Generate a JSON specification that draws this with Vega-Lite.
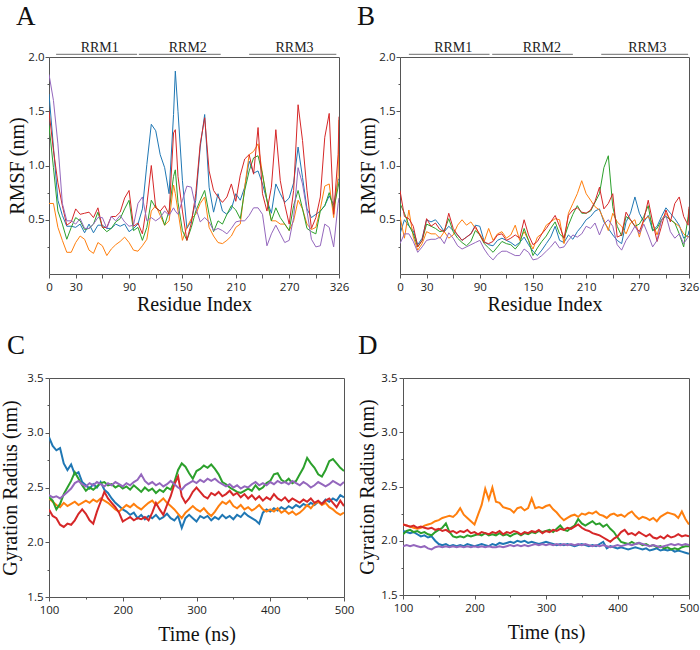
{
  "$schema": "https://vega.github.io/schema/vega-lite/v6.json",
  "background": "white",
  "padding": {"left": 0, "top": 3, "right": 0, "bottom": 0},
  "config": {
    "view": {"stroke": "#555", "strokeWidth": 1},
    "axis": {
      "labelFont": "Open Sans", "labelFontSize": 11.5, "labelColor": "#222",
      "titleFont": "Liberation Serif", "titleFontSize": 20, "titleFontWeight": "normal", "titleColor": "#111",
      "domain": false, "tickColor": "#555", "grid": false, "labelFlush": false, "labelOverlap": false,
      "labelPadding": 2
    },
    "title": {"font": "Liberation Serif", "fontSize": 27, "fontWeight": "normal", "anchor": "start", "frame": "group", "color": "#111"}
  },
  "datasets": {
    "rmsf_free": [
      {"res":0,"r1":1.66,"r2":0.65,"r3":1.37,"r4":1.50,"r5":1.84},
      {"res":5,"r1":1.17,"r2":0.65,"r3":0.98,"r4":1.14,"r5":1.60},
      {"res":10,"r1":0.68,"r2":0.43,"r3":0.58,"r4":0.84,"r5":1.20},
      {"res":15,"r1":0.54,"r2":0.31,"r3":0.46,"r4":0.63,"r5":0.65},
      {"res":20,"r1":0.44,"r2":0.20,"r3":0.32,"r4":0.45,"r5":0.49},
      {"res":25,"r1":0.44,"r2":0.20,"r3":0.43,"r4":0.48,"r5":0.49},
      {"res":30,"r1":0.43,"r2":0.29,"r3":0.52,"r4":0.60,"r5":0.46},
      {"res":35,"r1":0.46,"r2":0.35,"r3":0.49,"r4":0.55,"r5":0.51},
      {"res":40,"r1":0.38,"r2":0.32,"r3":0.41,"r4":0.56,"r5":0.42},
      {"res":45,"r1":0.46,"r2":0.22,"r3":0.42,"r4":0.57,"r5":0.42},
      {"res":50,"r1":0.38,"r2":0.19,"r3":0.46,"r4":0.52,"r5":0.46},
      {"res":55,"r1":0.45,"r2":0.29,"r3":0.57,"r4":0.61,"r5":0.52},
      {"res":60,"r1":0.45,"r2":0.26,"r3":0.43,"r4":0.43,"r5":0.52},
      {"res":65,"r1":0.42,"r2":0.17,"r3":0.39,"r4":0.43,"r5":0.42},
      {"res":70,"r1":0.42,"r2":0.23,"r3":0.42,"r4":0.53,"r5":0.53},
      {"res":75,"r1":0.46,"r2":0.27,"r3":0.48,"r4":0.53,"r5":0.49},
      {"res":80,"r1":0.44,"r2":0.30,"r3":0.51,"r4":0.57,"r5":0.54},
      {"res":85,"r1":0.46,"r2":0.34,"r3":0.60,"r4":0.70,"r5":0.48},
      {"res":90,"r1":0.39,"r2":0.29,"r3":0.68,"r4":0.77,"r5":0.44},
      {"res":95,"r1":0.42,"r2":0.22,"r3":0.40,"r4":0.44,"r5":0.45},
      {"res":100,"r1":0.46,"r2":0.21,"r3":0.43,"r4":0.47,"r5":0.65},
      {"res":105,"r1":0.60,"r2":0.26,"r3":0.31,"r4":0.37,"r5":0.71},
      {"res":110,"r1":1.01,"r2":0.32,"r3":0.43,"r4":0.64,"r5":0.49},
      {"res":115,"r1":1.38,"r2":0.58,"r3":0.68,"r4":1.00,"r5":0.52},
      {"res":120,"r1":1.32,"r2":0.63,"r3":0.61,"r4":0.61,"r5":0.49},
      {"res":125,"r1":1.10,"r2":0.54,"r3":0.58,"r4":0.58,"r5":0.52},
      {"res":130,"r1":0.98,"r2":0.45,"r3":0.45,"r4":0.63,"r5":0.58},
      {"res":135,"r1":0.74,"r2":0.49,"r3":0.58,"r4":0.55,"r5":0.54},
      {"res":140,"r1":1.47,"r2":0.82,"r3":0.90,"r4":1.30,"r5":0.61},
      {"res":142,"r1":1.87,"r2":0.74,"r3":0.96,"r4":1.33,"r5":0.58},
      {"res":145,"r1":1.50,"r2":0.58,"r3":0.66,"r4":0.90,"r5":0.55},
      {"res":150,"r1":0.86,"r2":0.31,"r3":0.40,"r4":0.58,"r5":0.68},
      {"res":155,"r1":0.42,"r2":0.43,"r3":0.31,"r4":0.31,"r5":0.81},
      {"res":160,"r1":0.49,"r2":0.51,"r3":0.43,"r4":0.47,"r5":0.80},
      {"res":165,"r1":0.68,"r2":0.55,"r3":0.58,"r4":0.74,"r5":0.61},
      {"res":170,"r1":1.17,"r2":0.65,"r3":0.68,"r4":1.20,"r5":0.48},
      {"res":175,"r1":1.47,"r2":0.71,"r3":0.77,"r4":1.44,"r5":0.52},
      {"res":180,"r1":0.80,"r2":0.43,"r3":0.55,"r4":0.95,"r5":0.48},
      {"res":185,"r1":0.57,"r2":0.35,"r3":0.39,"r4":0.77,"r5":0.40},
      {"res":190,"r1":0.74,"r2":0.29,"r3":0.49,"r4":0.71,"r5":0.42},
      {"res":195,"r1":0.58,"r2":0.28,"r3":0.46,"r4":0.66,"r5":0.40},
      {"res":200,"r1":0.55,"r2":0.31,"r3":0.55,"r4":0.71,"r5":0.37},
      {"res":205,"r1":0.60,"r2":0.35,"r3":0.63,"r4":0.83,"r5":0.42},
      {"res":210,"r1":0.74,"r2":0.43,"r3":0.59,"r4":0.67,"r5":0.48},
      {"res":215,"r1":0.68,"r2":0.46,"r3":0.51,"r4":0.91,"r5":0.49},
      {"res":220,"r1":0.80,"r2":0.80,"r3":0.77,"r4":1.06,"r5":0.49},
      {"res":225,"r1":1.04,"r2":1.10,"r3":0.95,"r4":1.10,"r5":0.54},
      {"res":230,"r1":0.93,"r2":1.13,"r3":1.07,"r4":0.92,"r5":0.61},
      {"res":235,"r1":0.95,"r2":1.20,"r3":1.09,"r4":1.35,"r5":0.61},
      {"res":240,"r1":0.83,"r2":0.92,"r3":0.92,"r4":0.74,"r5":0.55},
      {"res":245,"r1":0.68,"r2":0.68,"r3":0.68,"r4":0.58,"r5":0.26},
      {"res":250,"r1":0.56,"r2":0.49,"r3":0.49,"r4":0.80,"r5":0.37},
      {"res":255,"r1":0.83,"r2":0.49,"r3":0.61,"r4":1.33,"r5":0.45},
      {"res":260,"r1":0.74,"r2":0.46,"r3":0.52,"r4":0.86,"r5":0.37},
      {"res":265,"r1":0.66,"r2":0.46,"r3":0.46,"r4":0.64,"r5":0.29},
      {"res":270,"r1":0.70,"r2":0.40,"r3":0.40,"r4":0.46,"r5":0.31},
      {"res":275,"r1":0.84,"r2":0.49,"r3":0.63,"r4":0.77,"r5":0.52},
      {"res":280,"r1":1.17,"r2":0.68,"r3":0.77,"r4":1.56,"r5":0.98},
      {"res":285,"r1":0.89,"r2":0.60,"r3":0.60,"r4":1.23,"r5":0.83},
      {"res":290,"r1":0.60,"r2":0.46,"r3":0.42,"r4":0.77,"r5":0.58},
      {"res":295,"r1":0.52,"r2":0.41,"r3":0.39,"r4":0.42,"r5":0.32},
      {"res":300,"r1":0.55,"r2":0.43,"r3":0.37,"r4":0.52,"r5":0.25},
      {"res":305,"r1":0.58,"r2":0.60,"r3":0.58,"r4":0.71,"r5":0.26},
      {"res":310,"r1":0.63,"r2":0.81,"r3":0.63,"r4":1.26,"r5":0.46},
      {"res":315,"r1":0.72,"r2":0.83,"r3":0.75,"r4":1.48,"r5":0.43},
      {"res":320,"r1":0.64,"r2":0.52,"r3":0.60,"r4":0.55,"r5":0.25},
      {"res":325,"r1":0.86,"r2":0.90,"r3":0.80,"r4":1.10,"r5":0.65},
      {"res":326,"r1":0.88,"r2":1.42,"r3":0.85,"r4":1.45,"r5":0.70}
    ],
    "rmsf_bound": [
      {"res":0,"r1":0.37,"r2":0.53,"r3":0.65,"r4":0.77,"r5":0.28},
      {"res":5,"r1":0.50,"r2":0.33,"r3":0.56,"r4":0.53,"r5":0.37},
      {"res":10,"r1":0.44,"r2":0.59,"r3":0.45,"r4":0.51,"r5":0.37},
      {"res":15,"r1":0.40,"r2":0.34,"r3":0.37,"r4":0.44,"r5":0.30},
      {"res":20,"r1":0.27,"r2":0.22,"r3":0.25,"r4":0.25,"r5":0.20},
      {"res":25,"r1":0.33,"r2":0.28,"r3":0.31,"r4":0.31,"r5":0.25},
      {"res":30,"r1":0.50,"r2":0.39,"r3":0.46,"r4":0.51,"r5":0.31},
      {"res":35,"r1":0.48,"r2":0.37,"r3":0.44,"r4":0.44,"r5":0.32},
      {"res":40,"r1":0.50,"r2":0.37,"r3":0.42,"r4":0.47,"r5":0.32},
      {"res":45,"r1":0.45,"r2":0.33,"r3":0.39,"r4":0.41,"r5":0.34},
      {"res":50,"r1":0.39,"r2":0.39,"r3":0.40,"r4":0.39,"r5":0.28},
      {"res":55,"r1":0.44,"r2":0.33,"r3":0.51,"r4":0.56,"r5":0.38},
      {"res":60,"r1":0.40,"r2":0.36,"r3":0.39,"r4":0.42,"r5":0.33},
      {"res":65,"r1":0.36,"r2":0.45,"r3":0.33,"r4":0.36,"r5":0.26},
      {"res":70,"r1":0.31,"r2":0.50,"r3":0.29,"r4":0.31,"r5":0.23},
      {"res":75,"r1":0.34,"r2":0.45,"r3":0.26,"r4":0.34,"r5":0.25},
      {"res":80,"r1":0.37,"r2":0.48,"r3":0.30,"r4":0.37,"r5":0.27},
      {"res":85,"r1":0.45,"r2":0.42,"r3":0.40,"r4":0.44,"r5":0.29},
      {"res":90,"r1":0.44,"r2":0.37,"r3":0.36,"r4":0.36,"r5":0.31},
      {"res":95,"r1":0.30,"r2":0.30,"r3":0.28,"r4":0.29,"r5":0.23},
      {"res":100,"r1":0.27,"r2":0.42,"r3":0.24,"r4":0.28,"r5":0.17},
      {"res":105,"r1":0.26,"r2":0.31,"r3":0.20,"r4":0.30,"r5":0.13},
      {"res":110,"r1":0.31,"r2":0.37,"r3":0.25,"r4":0.36,"r5":0.18},
      {"res":115,"r1":0.33,"r2":0.39,"r3":0.30,"r4":0.37,"r5":0.21},
      {"res":120,"r1":0.31,"r2":0.33,"r3":0.28,"r4":0.31,"r5":0.21},
      {"res":125,"r1":0.29,"r2":0.36,"r3":0.27,"r4":0.33,"r5":0.19},
      {"res":130,"r1":0.26,"r2":0.45,"r3":0.23,"r4":0.36,"r5":0.17},
      {"res":135,"r1":0.29,"r2":0.31,"r3":0.28,"r4":0.33,"r5":0.17},
      {"res":140,"r1":0.34,"r2":0.39,"r3":0.42,"r4":0.50,"r5":0.23},
      {"res":145,"r1":0.27,"r2":0.31,"r3":0.31,"r4":0.36,"r5":0.20},
      {"res":150,"r1":0.21,"r2":0.23,"r3":0.17,"r4":0.27,"r5":0.13},
      {"res":155,"r1":0.17,"r2":0.34,"r3":0.24,"r4":0.30,"r5":0.14},
      {"res":160,"r1":0.22,"r2":0.37,"r3":0.30,"r4":0.37,"r5":0.17},
      {"res":165,"r1":0.28,"r2":0.45,"r3":0.35,"r4":0.42,"r5":0.21},
      {"res":170,"r1":0.34,"r2":0.48,"r3":0.42,"r4":0.48,"r5":0.25},
      {"res":175,"r1":0.44,"r2":0.51,"r3":0.48,"r4":0.54,"r5":0.30},
      {"res":180,"r1":0.31,"r2":0.50,"r3":0.37,"r4":0.44,"r5":0.24},
      {"res":185,"r1":0.29,"r2":0.28,"r3":0.33,"r4":0.33,"r5":0.25},
      {"res":190,"r1":0.36,"r2":0.56,"r3":0.45,"r4":0.54,"r5":0.31},
      {"res":195,"r1":0.32,"r2":0.65,"r3":0.55,"r4":0.59,"r5":0.36},
      {"res":200,"r1":0.39,"r2":0.74,"r3":0.63,"r4":0.61,"r5":0.34},
      {"res":205,"r1":0.44,"r2":0.86,"r3":0.56,"r4":0.57,"r5":0.37},
      {"res":210,"r1":0.50,"r2":0.74,"r3":0.56,"r4":0.56,"r5":0.44},
      {"res":215,"r1":0.53,"r2":0.68,"r3":0.58,"r4":0.59,"r5":0.42},
      {"res":220,"r1":0.58,"r2":0.62,"r3":0.66,"r4":0.67,"r5":0.47},
      {"res":225,"r1":0.60,"r2":0.59,"r3":0.74,"r4":0.80,"r5":0.36},
      {"res":230,"r1":0.48,"r2":0.50,"r3":0.98,"r4":0.60,"r5":0.46},
      {"res":235,"r1":0.42,"r2":0.40,"r3":1.09,"r4":0.65,"r5":0.50},
      {"res":240,"r1":0.36,"r2":0.56,"r3":0.62,"r4":0.74,"r5":0.44},
      {"res":245,"r1":0.31,"r2":0.48,"r3":0.44,"r4":0.34,"r5":0.27},
      {"res":250,"r1":0.28,"r2":0.44,"r3":0.35,"r4":0.36,"r5":0.22},
      {"res":255,"r1":0.48,"r2":0.37,"r3":0.53,"r4":0.57,"r5":0.31},
      {"res":260,"r1":0.56,"r2":0.47,"r3":0.50,"r4":0.50,"r5":0.37},
      {"res":265,"r1":0.71,"r2":0.50,"r3":0.44,"r4":0.44,"r5":0.44},
      {"res":270,"r1":0.56,"r2":0.34,"r3":0.46,"r4":0.39,"r5":0.37},
      {"res":275,"r1":0.48,"r2":0.50,"r3":0.53,"r4":0.50,"r5":0.46},
      {"res":280,"r1":0.54,"r2":0.53,"r3":0.63,"r4":0.68,"r5":0.36},
      {"res":285,"r1":0.40,"r2":0.47,"r3":0.40,"r4":0.48,"r5":0.25},
      {"res":290,"r1":0.44,"r2":0.36,"r3":0.42,"r4":0.30,"r5":0.31},
      {"res":295,"r1":0.53,"r2":0.50,"r3":0.50,"r4":0.44,"r5":0.50},
      {"res":300,"r1":0.61,"r2":0.56,"r3":0.53,"r4":0.59,"r5":0.54},
      {"res":305,"r1":0.56,"r2":0.50,"r3":0.50,"r4":0.48,"r5":0.39},
      {"res":310,"r1":0.51,"r2":0.47,"r3":0.47,"r4":0.65,"r5":0.33},
      {"res":315,"r1":0.45,"r2":0.44,"r3":0.37,"r4":0.71,"r5":0.37},
      {"res":320,"r1":0.33,"r2":0.37,"r3":0.25,"r4":0.53,"r5":0.28},
      {"res":325,"r1":0.36,"r2":0.34,"r3":0.53,"r4":0.45,"r5":0.34},
      {"res":326,"r1":0.40,"r2":0.35,"r3":0.60,"r4":0.62,"r5":0.35}
    ],
    "rg_free": [
      {"t":100,"r1":2.96,"r2":2.40,"r3":2.41,"r4":2.30,"r5":2.43},
      {"t":105,"r1":2.88,"r2":2.37,"r3":2.38,"r4":2.24,"r5":2.41},
      {"t":110,"r1":2.84,"r2":2.34,"r3":2.30,"r4":2.22,"r5":2.42},
      {"t":115,"r1":2.86,"r2":2.32,"r3":2.35,"r4":2.16,"r5":2.40},
      {"t":120,"r1":2.72,"r2":2.36,"r3":2.44,"r4":2.14,"r5":2.43},
      {"t":125,"r1":2.66,"r2":2.33,"r3":2.50,"r4":2.17,"r5":2.46},
      {"t":130,"r1":2.71,"r2":2.35,"r3":2.56,"r4":2.16,"r5":2.49},
      {"t":135,"r1":2.62,"r2":2.37,"r3":2.64,"r4":2.20,"r5":2.54},
      {"t":140,"r1":2.64,"r2":2.34,"r3":2.58,"r4":2.26,"r5":2.56},
      {"t":145,"r1":2.55,"r2":2.36,"r3":2.52,"r4":2.30,"r5":2.53},
      {"t":150,"r1":2.52,"r2":2.38,"r3":2.47,"r4":2.26,"r5":2.51},
      {"t":155,"r1":2.49,"r2":2.36,"r3":2.50,"r4":2.20,"r5":2.54},
      {"t":160,"r1":2.53,"r2":2.39,"r3":2.48,"r4":2.17,"r5":2.52},
      {"t":165,"r1":2.50,"r2":2.37,"r3":2.51,"r4":2.28,"r5":2.55},
      {"t":170,"r1":2.55,"r2":2.40,"r3":2.54,"r4":2.37,"r5":2.53},
      {"t":175,"r1":2.48,"r2":2.38,"r3":2.55,"r4":2.46,"r5":2.51},
      {"t":180,"r1":2.45,"r2":2.36,"r3":2.52,"r4":2.40,"r5":2.54},
      {"t":185,"r1":2.40,"r2":2.33,"r3":2.53,"r4":2.36,"r5":2.52},
      {"t":190,"r1":2.36,"r2":2.30,"r3":2.50,"r4":2.32,"r5":2.55},
      {"t":195,"r1":2.33,"r2":2.28,"r3":2.52,"r4":2.27,"r5":2.53},
      {"t":200,"r1":2.30,"r2":2.31,"r3":2.49,"r4":2.19,"r5":2.51},
      {"t":205,"r1":2.28,"r2":2.34,"r3":2.51,"r4":2.21,"r5":2.54},
      {"t":210,"r1":2.25,"r2":2.32,"r3":2.48,"r4":2.23,"r5":2.52},
      {"t":215,"r1":2.27,"r2":2.35,"r3":2.52,"r4":2.20,"r5":2.55},
      {"t":220,"r1":2.22,"r2":2.32,"r3":2.49,"r4":2.22,"r5":2.57},
      {"t":225,"r1":2.25,"r2":2.30,"r3":2.46,"r4":2.21,"r5":2.62},
      {"t":230,"r1":2.21,"r2":2.33,"r3":2.50,"r4":2.23,"r5":2.56},
      {"t":235,"r1":2.24,"r2":2.36,"r3":2.47,"r4":2.20,"r5":2.53},
      {"t":240,"r1":2.22,"r2":2.38,"r3":2.49,"r4":2.27,"r5":2.55},
      {"t":245,"r1":2.25,"r2":2.34,"r3":2.45,"r4":2.36,"r5":2.52},
      {"t":250,"r1":2.21,"r2":2.37,"r3":2.48,"r4":2.30,"r5":2.54},
      {"t":255,"r1":2.23,"r2":2.40,"r3":2.46,"r4":2.25,"r5":2.51},
      {"t":260,"r1":2.26,"r2":2.36,"r3":2.50,"r4":2.34,"r5":2.53},
      {"t":265,"r1":2.22,"r2":2.33,"r3":2.48,"r4":2.42,"r5":2.56},
      {"t":270,"r1":2.20,"r2":2.30,"r3":2.55,"r4":2.53,"r5":2.53},
      {"t":275,"r1":2.24,"r2":2.26,"r3":2.66,"r4":2.60,"r5":2.50},
      {"t":280,"r1":2.13,"r2":2.22,"r3":2.72,"r4":2.42,"r5":2.48},
      {"t":285,"r1":2.22,"r2":2.27,"r3":2.69,"r4":2.36,"r5":2.52},
      {"t":290,"r1":2.25,"r2":2.30,"r3":2.63,"r4":2.40,"r5":2.54},
      {"t":295,"r1":2.22,"r2":2.33,"r3":2.58,"r4":2.46,"r5":2.56},
      {"t":300,"r1":2.19,"r2":2.30,"r3":2.65,"r4":2.50,"r5":2.54},
      {"t":305,"r1":2.24,"r2":2.28,"r3":2.67,"r4":2.46,"r5":2.57},
      {"t":310,"r1":2.22,"r2":2.31,"r3":2.70,"r4":2.42,"r5":2.55},
      {"t":315,"r1":2.24,"r2":2.27,"r3":2.68,"r4":2.40,"r5":2.58},
      {"t":320,"r1":2.20,"r2":2.24,"r3":2.71,"r4":2.45,"r5":2.56},
      {"t":325,"r1":2.23,"r2":2.28,"r3":2.67,"r4":2.43,"r5":2.58},
      {"t":330,"r1":2.21,"r2":2.33,"r3":2.62,"r4":2.46,"r5":2.55},
      {"t":335,"r1":2.25,"r2":2.37,"r3":2.55,"r4":2.42,"r5":2.53},
      {"t":340,"r1":2.22,"r2":2.35,"r3":2.53,"r4":2.44,"r5":2.51},
      {"t":345,"r1":2.24,"r2":2.38,"r3":2.50,"r4":2.47,"r5":2.53},
      {"t":350,"r1":2.21,"r2":2.33,"r3":2.48,"r4":2.43,"r5":2.50},
      {"t":355,"r1":2.25,"r2":2.31,"r3":2.46,"r4":2.45,"r5":2.52},
      {"t":360,"r1":2.23,"r2":2.34,"r3":2.45,"r4":2.41,"r5":2.49},
      {"t":365,"r1":2.27,"r2":2.30,"r3":2.47,"r4":2.44,"r5":2.51},
      {"t":370,"r1":2.24,"r2":2.32,"r3":2.49,"r4":2.40,"r5":2.50},
      {"t":375,"r1":2.22,"r2":2.29,"r3":2.47,"r4":2.43,"r5":2.53},
      {"t":380,"r1":2.20,"r2":2.31,"r3":2.52,"r4":2.39,"r5":2.55},
      {"t":385,"r1":2.17,"r2":2.34,"r3":2.48,"r4":2.42,"r5":2.52},
      {"t":390,"r1":2.27,"r2":2.30,"r3":2.50,"r4":2.38,"r5":2.54},
      {"t":395,"r1":2.30,"r2":2.28,"r3":2.54,"r4":2.41,"r5":2.52},
      {"t":400,"r1":2.28,"r2":2.30,"r3":2.56,"r4":2.39,"r5":2.55},
      {"t":405,"r1":2.31,"r2":2.28,"r3":2.62,"r4":2.44,"r5":2.53},
      {"t":410,"r1":2.29,"r2":2.31,"r3":2.63,"r4":2.40,"r5":2.56},
      {"t":415,"r1":2.32,"r2":2.27,"r3":2.57,"r4":2.38,"r5":2.54},
      {"t":420,"r1":2.30,"r2":2.29,"r3":2.55,"r4":2.41,"r5":2.55},
      {"t":425,"r1":2.33,"r2":2.26,"r3":2.58,"r4":2.37,"r5":2.53},
      {"t":430,"r1":2.31,"r2":2.28,"r3":2.54,"r4":2.40,"r5":2.56},
      {"t":435,"r1":2.34,"r2":2.25,"r3":2.56,"r4":2.38,"r5":2.54},
      {"t":440,"r1":2.32,"r2":2.27,"r3":2.62,"r4":2.36,"r5":2.52},
      {"t":445,"r1":2.35,"r2":2.30,"r3":2.68,"r4":2.39,"r5":2.55},
      {"t":450,"r1":2.33,"r2":2.34,"r3":2.77,"r4":2.37,"r5":2.53},
      {"t":455,"r1":2.36,"r2":2.31,"r3":2.72,"r4":2.40,"r5":2.50},
      {"t":460,"r1":2.34,"r2":2.35,"r3":2.68,"r4":2.36,"r5":2.52},
      {"t":465,"r1":2.37,"r2":2.37,"r3":2.62,"r4":2.38,"r5":2.55},
      {"t":470,"r1":2.35,"r2":2.34,"r3":2.60,"r4":2.35,"r5":2.53},
      {"t":475,"r1":2.39,"r2":2.36,"r3":2.66,"r4":2.38,"r5":2.51},
      {"t":480,"r1":2.37,"r2":2.32,"r3":2.74,"r4":2.40,"r5":2.53},
      {"t":485,"r1":2.40,"r2":2.30,"r3":2.76,"r4":2.36,"r5":2.56},
      {"t":490,"r1":2.38,"r2":2.27,"r3":2.72,"r4":2.32,"r5":2.54},
      {"t":495,"r1":2.43,"r2":2.25,"r3":2.68,"r4":2.38,"r5":2.52},
      {"t":500,"r1":2.41,"r2":2.27,"r3":2.65,"r4":2.33,"r5":2.55}
    ],
    "rg_bound": [
      {"t":100,"r1":2.09,"r2":2.15,"r3":2.06,"r4":2.15,"r5":1.95},
      {"t":105,"r1":2.08,"r2":2.14,"r3":2.09,"r4":2.14,"r5":1.96},
      {"t":110,"r1":2.07,"r2":2.13,"r3":2.10,"r4":2.13,"r5":1.95},
      {"t":115,"r1":2.08,"r2":2.12,"r3":2.08,"r4":2.14,"r5":1.96},
      {"t":120,"r1":2.06,"r2":2.11,"r3":2.09,"r4":2.12,"r5":1.95},
      {"t":125,"r1":2.04,"r2":2.12,"r3":2.07,"r4":2.13,"r5":1.94},
      {"t":130,"r1":2.05,"r2":2.14,"r3":2.08,"r4":2.12,"r5":1.95},
      {"t":135,"r1":2.03,"r2":2.15,"r3":2.06,"r4":2.11,"r5":1.93},
      {"t":140,"r1":2.04,"r2":2.16,"r3":2.05,"r4":2.12,"r5":1.92},
      {"t":145,"r1":2.00,"r2":2.18,"r3":2.08,"r4":2.10,"r5":1.94},
      {"t":150,"r1":1.97,"r2":2.19,"r3":2.10,"r4":2.11,"r5":1.95},
      {"t":155,"r1":1.96,"r2":2.21,"r3":2.12,"r4":2.09,"r5":1.94},
      {"t":160,"r1":1.97,"r2":2.22,"r3":2.16,"r4":2.10,"r5":1.95},
      {"t":165,"r1":1.95,"r2":2.23,"r3":2.08,"r4":2.08,"r5":1.94},
      {"t":170,"r1":1.96,"r2":2.22,"r3":2.04,"r4":2.09,"r5":1.95},
      {"t":175,"r1":1.95,"r2":2.25,"r3":2.03,"r4":2.07,"r5":1.94},
      {"t":180,"r1":1.96,"r2":2.30,"r3":2.04,"r4":2.09,"r5":1.95},
      {"t":185,"r1":1.95,"r2":2.24,"r3":2.03,"r4":2.08,"r5":1.94},
      {"t":190,"r1":1.97,"r2":2.21,"r3":2.05,"r4":2.10,"r5":1.95},
      {"t":195,"r1":1.96,"r2":2.18,"r3":2.04,"r4":2.07,"r5":1.94},
      {"t":200,"r1":1.95,"r2":2.15,"r3":2.05,"r4":2.08,"r5":1.95},
      {"t":205,"r1":1.96,"r2":2.24,"r3":2.06,"r4":2.06,"r5":1.94},
      {"t":210,"r1":1.97,"r2":2.33,"r3":2.05,"r4":2.08,"r5":1.95},
      {"t":215,"r1":1.96,"r2":2.48,"r3":2.07,"r4":2.07,"r5":1.94},
      {"t":220,"r1":1.95,"r2":2.38,"r3":2.05,"r4":2.06,"r5":1.95},
      {"t":225,"r1":1.97,"r2":2.49,"r3":2.06,"r4":2.08,"r5":1.94},
      {"t":230,"r1":1.96,"r2":2.36,"r3":2.05,"r4":2.07,"r5":1.94},
      {"t":235,"r1":1.98,"r2":2.35,"r3":2.07,"r4":2.09,"r5":1.95},
      {"t":240,"r1":1.97,"r2":2.31,"r3":2.05,"r4":2.06,"r5":1.94},
      {"t":245,"r1":1.98,"r2":2.30,"r3":2.06,"r4":2.08,"r5":1.95},
      {"t":250,"r1":1.99,"r2":2.29,"r3":2.04,"r4":2.07,"r5":1.96},
      {"t":255,"r1":1.98,"r2":2.26,"r3":2.06,"r4":2.09,"r5":1.95},
      {"t":260,"r1":2.00,"r2":2.30,"r3":2.07,"r4":2.08,"r5":1.96},
      {"t":265,"r1":1.99,"r2":2.31,"r3":2.05,"r4":2.06,"r5":1.95},
      {"t":270,"r1":2.00,"r2":2.28,"r3":2.07,"r4":2.08,"r5":1.96},
      {"t":275,"r1":1.98,"r2":2.30,"r3":2.06,"r4":2.07,"r5":1.95},
      {"t":280,"r1":1.99,"r2":2.39,"r3":2.08,"r4":2.09,"r5":1.96},
      {"t":285,"r1":1.98,"r2":2.30,"r3":2.07,"r4":2.08,"r5":1.97},
      {"t":290,"r1":1.97,"r2":2.31,"r3":2.09,"r4":2.10,"r5":1.96},
      {"t":295,"r1":1.98,"r2":2.30,"r3":2.08,"r4":2.07,"r5":1.97},
      {"t":300,"r1":1.99,"r2":2.32,"r3":2.09,"r4":2.09,"r5":1.96},
      {"t":305,"r1":1.98,"r2":2.33,"r3":2.10,"r4":2.08,"r5":1.97},
      {"t":310,"r1":1.97,"r2":2.29,"r3":2.08,"r4":2.10,"r5":1.96},
      {"t":315,"r1":1.96,"r2":2.26,"r3":2.11,"r4":2.09,"r5":1.97},
      {"t":320,"r1":1.97,"r2":2.22,"r3":2.14,"r4":2.11,"r5":1.96},
      {"t":325,"r1":1.96,"r2":2.19,"r3":2.10,"r4":2.10,"r5":1.97},
      {"t":330,"r1":1.97,"r2":2.21,"r3":2.09,"r4":2.12,"r5":1.96},
      {"t":335,"r1":1.96,"r2":2.23,"r3":2.12,"r4":2.11,"r5":1.97},
      {"t":340,"r1":1.95,"r2":2.24,"r3":2.14,"r4":2.13,"r5":1.96},
      {"t":345,"r1":1.96,"r2":2.22,"r3":2.20,"r4":2.15,"r5":1.97},
      {"t":350,"r1":1.97,"r2":2.25,"r3":2.16,"r4":2.12,"r5":1.96},
      {"t":355,"r1":1.96,"r2":2.24,"r3":2.14,"r4":2.10,"r5":1.97},
      {"t":360,"r1":1.95,"r2":2.26,"r3":2.16,"r4":2.09,"r5":1.96},
      {"t":365,"r1":1.96,"r2":2.25,"r3":2.18,"r4":2.07,"r5":1.95},
      {"t":370,"r1":1.95,"r2":2.27,"r3":2.15,"r4":2.06,"r5":1.96},
      {"t":375,"r1":1.97,"r2":2.24,"r3":2.16,"r4":2.05,"r5":1.95},
      {"t":380,"r1":1.99,"r2":2.23,"r3":2.13,"r4":2.03,"r5":1.96},
      {"t":385,"r1":1.93,"r2":2.21,"r3":2.15,"r4":2.01,"r5":1.95},
      {"t":390,"r1":1.95,"r2":2.24,"r3":2.11,"r4":1.99,"r5":1.94},
      {"t":395,"r1":1.94,"r2":2.25,"r3":2.08,"r4":2.02,"r5":1.95},
      {"t":400,"r1":1.93,"r2":2.23,"r3":2.03,"r4":2.04,"r5":1.96},
      {"t":405,"r1":1.94,"r2":2.24,"r3":1.99,"r4":2.08,"r5":1.95},
      {"t":410,"r1":1.93,"r2":2.22,"r3":1.98,"r4":2.10,"r5":1.96},
      {"t":415,"r1":1.92,"r2":2.25,"r3":1.97,"r4":2.06,"r5":1.97},
      {"t":420,"r1":1.93,"r2":2.27,"r3":1.99,"r4":2.07,"r5":1.96},
      {"t":425,"r1":1.94,"r2":2.23,"r3":1.97,"r4":2.05,"r5":1.97},
      {"t":430,"r1":1.93,"r2":2.20,"r3":1.98,"r4":2.08,"r5":1.98},
      {"t":435,"r1":1.92,"r2":2.22,"r3":1.96,"r4":2.06,"r5":1.97},
      {"t":440,"r1":1.93,"r2":2.21,"r3":1.97,"r4":2.04,"r5":1.96},
      {"t":445,"r1":1.91,"r2":2.19,"r3":1.95,"r4":2.06,"r5":1.95},
      {"t":450,"r1":1.92,"r2":2.21,"r3":1.96,"r4":2.03,"r5":1.96},
      {"t":455,"r1":1.93,"r2":2.18,"r3":1.94,"r4":2.02,"r5":1.95},
      {"t":460,"r1":1.91,"r2":2.22,"r3":1.95,"r4":2.04,"r5":1.94},
      {"t":465,"r1":1.92,"r2":2.24,"r3":1.93,"r4":2.02,"r5":1.95},
      {"t":470,"r1":1.91,"r2":2.26,"r3":1.94,"r4":2.05,"r5":1.96},
      {"t":475,"r1":1.92,"r2":2.25,"r3":1.92,"r4":2.03,"r5":1.97},
      {"t":480,"r1":1.90,"r2":2.24,"r3":1.93,"r4":2.04,"r5":1.96},
      {"t":485,"r1":1.91,"r2":2.21,"r3":1.92,"r4":2.06,"r5":1.97},
      {"t":490,"r1":1.90,"r2":2.27,"r3":1.94,"r4":2.04,"r5":1.96},
      {"t":495,"r1":1.89,"r2":2.20,"r3":1.95,"r4":2.05,"r5":1.97},
      {"t":500,"r1":1.88,"r2":2.15,"r3":1.95,"r4":2.04,"r5":1.96}
    ],
    "domains_free": [
      {"domain":"RRM1","start":8,"end":99,"mid":57},
      {"domain":"RRM2","start":101,"end":193,"mid":156},
      {"domain":"RRM3","start":225,"end":323,"mid":276}
    ],
    "domains_bound": [
      {"domain":"RRM1","start":10,"end":101,"mid":60},
      {"domain":"RRM2","start":104,"end":195,"mid":160},
      {"domain":"RRM3","start":227,"end":325,"mid":279}
    ]
  },
  "spacing": 16,
  "vconcat": [
    {
      "spacing": 7,
      "hconcat": [
        {
          "spacing": 0,
          "bounds": "flush",
          "resolve": {"scale": {"x": "independent", "y": "independent"}},
          "vconcat": [
            {
              "title": {"text": "A", "dx": -33, "offset": 8},
              "width": 290, "height": 18,
              "view": {"stroke": null},
              "data": {"name": "domains_free"},
              "layer": [
                {
                  "mark": {"type": "rule", "color": "#8a8a8a", "strokeWidth": 1.3},
                  "encoding": {
                    "x": {"field": "start", "type": "quantitative", "axis": null, "scale": {"domain": [0, 326], "nice": false}},
                    "x2": {"field": "end"},
                    "y": {"datum": 0.15, "type": "quantitative", "axis": null, "scale": {"domain": [0, 1], "nice": false}}
                  }
                },
                {
                  "mark": {"type": "text", "font": "Liberation Serif", "fontSize": 14, "baseline": "alphabetic", "color": "#222"},
                  "encoding": {
                    "x": {"field": "mid", "type": "quantitative", "axis": null},
                    "y": {"datum": 0.28, "type": "quantitative", "axis": null},
                    "text": {"field": "domain"}
                  }
                }
              ]
            },
            {
              "width": 290, "height": 217,
              "data": {"name": "rmsf_free"},
              "transform": [{"fold": ["r1", "r2", "r3", "r4", "r5"], "as": ["run", "rmsf"]}],
              "mark": {"type": "line", "strokeWidth": 1, "clip": true},
              "encoding": {
                "x": {"field": "res", "type": "quantitative", "title": "Residue Index",
                      "scale": {"domain": [0, 326], "nice": false},
                      "axis": {"values": [0, 30, 60, 90, 120, 150, 180, 210, 240, 270, 300, 326],
                               "labelExpr": "indexof([0, 30, 90, 150, 210, 270, 326], datum.value) >= 0 ? datum.label : ''",
                               "tickSize": 4, "labelPadding": 3, "titlePadding": 2}},
                "y": {"field": "rmsf", "type": "quantitative", "title": "RMSF (nm)",
                      "scale": {"domain": [0, 2], "nice": false},
                      "axis": {"values": [0.25, 0.5, 0.75, 1, 1.25, 1.5, 1.75, 2], "format": ".1f",
                               "labelExpr": "datum.value % 0.5 === 0 ? datum.label : ''",
                               "tickSize": {"condition": {"test": "datum.value % 0.5 !== 0", "value": 2}, "value": 4},
                               "labelPadding": 1, "titlePadding": 0}},
                "color": {"field": "run", "type": "nominal", "legend": null,
                          "scale": {"domain": ["r1", "r2", "r3", "r4", "r5"],
                                    "range": ["#1f77b4", "#ff7f0e", "#2ca02c", "#d62728", "#9467bd"]}}
              }
            }
          ]
        },
        {
          "spacing": 0,
          "bounds": "flush",
          "resolve": {"scale": {"x": "independent", "y": "independent"}},
          "vconcat": [
            {
              "title": {"text": "B", "dx": -43, "offset": 8},
              "width": 289, "height": 18,
              "view": {"stroke": null},
              "data": {"name": "domains_bound"},
              "layer": [
                {
                  "mark": {"type": "rule", "color": "#8a8a8a", "strokeWidth": 1.3},
                  "encoding": {
                    "x": {"field": "start", "type": "quantitative", "axis": null, "scale": {"domain": [0, 326], "nice": false}},
                    "x2": {"field": "end"},
                    "y": {"datum": 0.15, "type": "quantitative", "axis": null, "scale": {"domain": [0, 1], "nice": false}}
                  }
                },
                {
                  "mark": {"type": "text", "font": "Liberation Serif", "fontSize": 14, "baseline": "alphabetic", "color": "#222"},
                  "encoding": {
                    "x": {"field": "mid", "type": "quantitative", "axis": null},
                    "y": {"datum": 0.28, "type": "quantitative", "axis": null},
                    "text": {"field": "domain"}
                  }
                }
              ]
            },
            {
              "width": 289, "height": 217,
              "data": {"name": "rmsf_bound"},
              "transform": [{"fold": ["r1", "r2", "r3", "r4", "r5"], "as": ["run", "rmsf"]}],
              "mark": {"type": "line", "strokeWidth": 1, "clip": true},
              "encoding": {
                "x": {"field": "res", "type": "quantitative", "title": "Residue Index",
                      "scale": {"domain": [0, 326], "nice": false},
                      "axis": {"values": [0, 30, 60, 90, 120, 150, 180, 210, 240, 270, 300, 326],
                               "labelExpr": "indexof([0, 30, 90, 150, 210, 270, 326], datum.value) >= 0 ? datum.label : ''",
                               "tickSize": 4, "labelPadding": 3, "titlePadding": 2}},
                "y": {"field": "rmsf", "type": "quantitative", "title": "RMSF (nm)",
                      "scale": {"domain": [0, 2], "nice": false},
                      "axis": {"values": [0.25, 0.5, 0.75, 1, 1.25, 1.5, 1.75, 2], "format": ".1f",
                               "labelExpr": "datum.value % 0.5 === 0 ? datum.label : ''",
                               "tickSize": {"condition": {"test": "datum.value % 0.5 !== 0", "value": 2}, "value": 4},
                               "labelPadding": 1, "titlePadding": 0}},
                "color": {"field": "run", "type": "nominal", "legend": null,
                          "scale": {"domain": ["r1", "r2", "r3", "r4", "r5"],
                                    "range": ["#1f77b4", "#ff7f0e", "#2ca02c", "#d62728", "#9467bd"]}}
              }
            }
          ]
        }
      ]
    },
    {
      "spacing": 2,
      "hconcat": [
        {
          "title": {"text": "C", "dx": -42, "offset": 12},
          "width": 295, "height": 219,
          "data": {"name": "rg_free"},
          "transform": [{"fold": ["r1", "r2", "r3", "r4", "r5"], "as": ["run", "rg"]}],
          "mark": {"type": "line", "strokeWidth": 2, "clip": true},
          "encoding": {
            "x": {"field": "t", "type": "quantitative", "title": "Time (ns)",
                  "scale": {"domain": [100, 500], "nice": false},
                  "axis": {"values": [100, 150, 200, 250, 300, 350, 400, 450, 500],
                           "labelExpr": "datum.value % 100 === 0 ? datum.label : ''",
                           "tickSize": {"condition": {"test": "datum.value % 100 !== 0", "value": 2}, "value": 4},
                           "labelPadding": 3, "titlePadding": 9}},
            "y": {"field": "rg", "type": "quantitative", "title": "Gyration Radius (nm)",
                  "scale": {"domain": [1.5, 3.5], "nice": false},
                  "axis": {"values": [1.5, 1.75, 2, 2.25, 2.5, 2.75, 3, 3.25, 3.5], "format": ".1f",
                           "labelExpr": "datum.value % 0.5 === 0 ? datum.label : ''",
                           "tickSize": {"condition": {"test": "datum.value % 0.5 !== 0", "value": 2}, "value": 4},
                           "titlePadding": 6}},
            "color": {"field": "run", "type": "nominal", "legend": null,
                      "scale": {"domain": ["r1", "r2", "r3", "r4", "r5"],
                                "range": ["#1f77b4", "#ff7f0e", "#2ca02c", "#d62728", "#9467bd"]}}
          }
        },
        {
          "title": {"text": "D", "dx": -45, "offset": 12},
          "width": 286, "height": 217,
          "data": {"name": "rg_bound"},
          "transform": [{"fold": ["r1", "r2", "r3", "r4", "r5"], "as": ["run", "rg"]}],
          "mark": {"type": "line", "strokeWidth": 2, "clip": true},
          "encoding": {
            "x": {"field": "t", "type": "quantitative", "title": "Time (ns)",
                  "scale": {"domain": [100, 500], "nice": false},
                  "axis": {"values": [100, 150, 200, 250, 300, 350, 400, 450, 500],
                           "labelExpr": "datum.value % 100 === 0 ? datum.label : ''",
                           "tickSize": {"condition": {"test": "datum.value % 100 !== 0", "value": 2}, "value": 4},
                           "labelPadding": 3, "titlePadding": 9}},
            "y": {"field": "rg", "type": "quantitative", "title": "Gyration Radius (nm)",
                  "scale": {"domain": [1.5, 3.5], "nice": false},
                  "axis": {"values": [1.5, 1.75, 2, 2.25, 2.5, 2.75, 3, 3.25, 3.5], "format": ".1f",
                           "labelExpr": "datum.value % 0.5 === 0 ? datum.label : ''",
                           "tickSize": {"condition": {"test": "datum.value % 0.5 !== 0", "value": 2}, "value": 4},
                           "titlePadding": 3}},
            "color": {"field": "run", "type": "nominal", "legend": null,
                      "scale": {"domain": ["r1", "r2", "r3", "r4", "r5"],
                                "range": ["#1f77b4", "#ff7f0e", "#2ca02c", "#d62728", "#9467bd"]}}
          }
        }
      ]
    }
  ]
}
